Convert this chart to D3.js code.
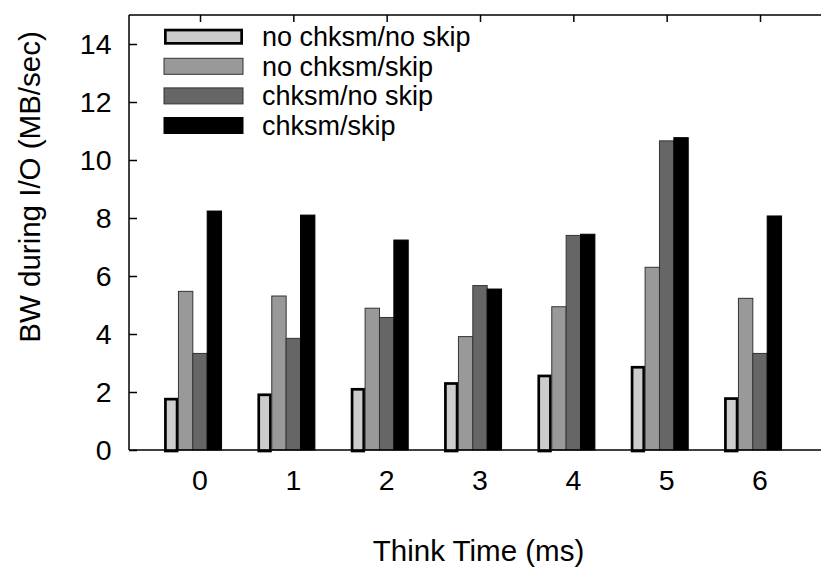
<!DOCTYPE html>
<html>
<head>
<meta charset="utf-8">
<script src="https://cdn.jsdelivr.net/npm/d3@7"></script>
<style>
  html, body { margin: 0; padding: 0; background: #fff; }
  svg { display: block; }
  text { font-family: "Liberation Sans", Arial, Helvetica, sans-serif; fill: #000; }
</style>
</head>
<body>
<script>
// ---- data ----
const categories = [0, 1, 2, 3, 4, 5, 6];
const seriesNames = ["no chksm/no skip", "no chksm/skip", "chksm/no skip", "chksm/skip"];
const noChksmNoSkip = [1.80, 1.95, 2.14, 2.34, 2.60, 2.90, 1.82];
const noChksmSkip   = [5.47, 5.31, 4.89, 3.91, 4.94, 6.30, 5.23];
const chksmNoSkip   = [3.33, 3.85, 4.57, 5.67, 7.40, 10.66, 3.33];
const chksmSkip     = [8.24, 8.10, 7.24, 5.55, 7.44, 10.77, 8.07];
const yTicks = [0, 2, 4, 6, 8, 10, 12, 14];
const xLabel = "Think Time (ms)";
const yLabel = "BW during I/O (MB/sec)";

const seriesValues = [noChksmNoSkip, noChksmSkip, chksmNoSkip, chksmSkip];
const fills   = ["#cccccc", "#999999", "#666666", "#000000"];
const strokes = ["#000000", "#333333", "#333333", "#000000"];
const strokeW = [2.7, 1, 1, 1];

const W = 821, H = 567;
const pLeft = 129, pRight = 821, pTop = 15, pBottom = 450;
const fontSize = 28.5;
const titleSize = 29.5;

const svg = d3.select("body").append("svg").attr("width", W).attr("height", H);

const x = d3.scaleLinear().domain([0, 6]).range([200, 760]);
const y = d3.scaleLinear().domain([0, 15]).range([pBottom, pTop]);
const barW = 0.154; // in category units

// bars
seriesValues.forEach((vals, si) => {
  const inset = si === 0 ? strokeW[0] / 2 : 0;
  svg.append("g").selectAll("rect").data(vals).join("rect")
    .attr("x", (d, i) => x(categories[i] + (si - 2.5) * barW) + inset)
    .attr("width", x(barW) - x(0) - 2 * inset)
    .attr("y", d => y(d) + inset)
    .attr("height", d => y(0) - y(d) - inset + (si === 0 ? 1 : 0))
    .attr("fill", fills[si])
    .attr("stroke", strokes[si])
    .attr("stroke-width", strokeW[si]);
});

// axes lines
const axisG = svg.append("g").attr("stroke", "#000").attr("stroke-width", 1.5).attr("fill", "none");
axisG.append("line").attr("x1", pLeft).attr("x2", pRight).attr("y1", pTop).attr("y2", pTop);
axisG.append("line").attr("x1", pLeft).attr("x2", pRight).attr("y1", pBottom).attr("y2", pBottom);
axisG.append("line").attr("x1", pLeft).attr("x2", pLeft).attr("y1", pTop).attr("y2", pBottom);

// y axis ticks (inward) and labels
const yAxis = d3.axisRight(y).tickValues(yTicks).tickSize(8).tickFormat("");
const gy = svg.append("g").attr("transform", `translate(${pLeft},0)`).call(yAxis);
gy.select(".domain").remove();
gy.selectAll(".tick line").attr("stroke", "#000").attr("stroke-width", 1.5);
svg.append("g").selectAll("text").data(yTicks).join("text")
  .attr("x", 111.5).attr("y", d => y(d)).attr("dy", "0.36em")
  .attr("text-anchor", "end").attr("font-size", fontSize)
  .text(d => d);

// top axis ticks (inward) at categories
const xTop = d3.axisBottom(x).tickValues(categories).tickSize(7).tickFormat("");
const gxt = svg.append("g").attr("transform", `translate(0,${pTop})`).call(xTop);
gxt.select(".domain").remove();
gxt.selectAll(".tick line").attr("stroke", "#000").attr("stroke-width", 1.5);

// x tick labels
svg.append("g").selectAll("text").data(categories).join("text")
  .attr("x", d => x(d)).attr("y", 490)
  .attr("text-anchor", "middle").attr("font-size", fontSize)
  .text(d => d);

// axis titles
svg.append("text").attr("x", 478.5).attr("y", 561)
  .attr("text-anchor", "middle").attr("font-size", titleSize).text(xLabel);
svg.append("text").attr("transform", "translate(40,187) rotate(-90)")
  .attr("text-anchor", "middle").attr("font-size", titleSize).text(yLabel);

// legend
const legendY = d3.scaleLinear().domain([0, 3]).range([36.7, 125.5]);
const lg = svg.append("g");
seriesNames.forEach((name, si) => {
  const cy = legendY(si);
  const inset = si === 0 ? strokeW[0] / 2 : 0;
  lg.append("rect")
    .attr("x", 164 + inset).attr("y", cy - 8 + inset)
    .attr("width", 79 - 2 * inset).attr("height", 16 - 2 * inset)
    .attr("fill", fills[si]).attr("stroke", strokes[si]).attr("stroke-width", strokeW[si]);
  lg.append("text").attr("x", 262).attr("y", cy).attr("dy", "0.35em")
    .attr("font-size", 27).text(name);
});
</script>
</body>
</html>
